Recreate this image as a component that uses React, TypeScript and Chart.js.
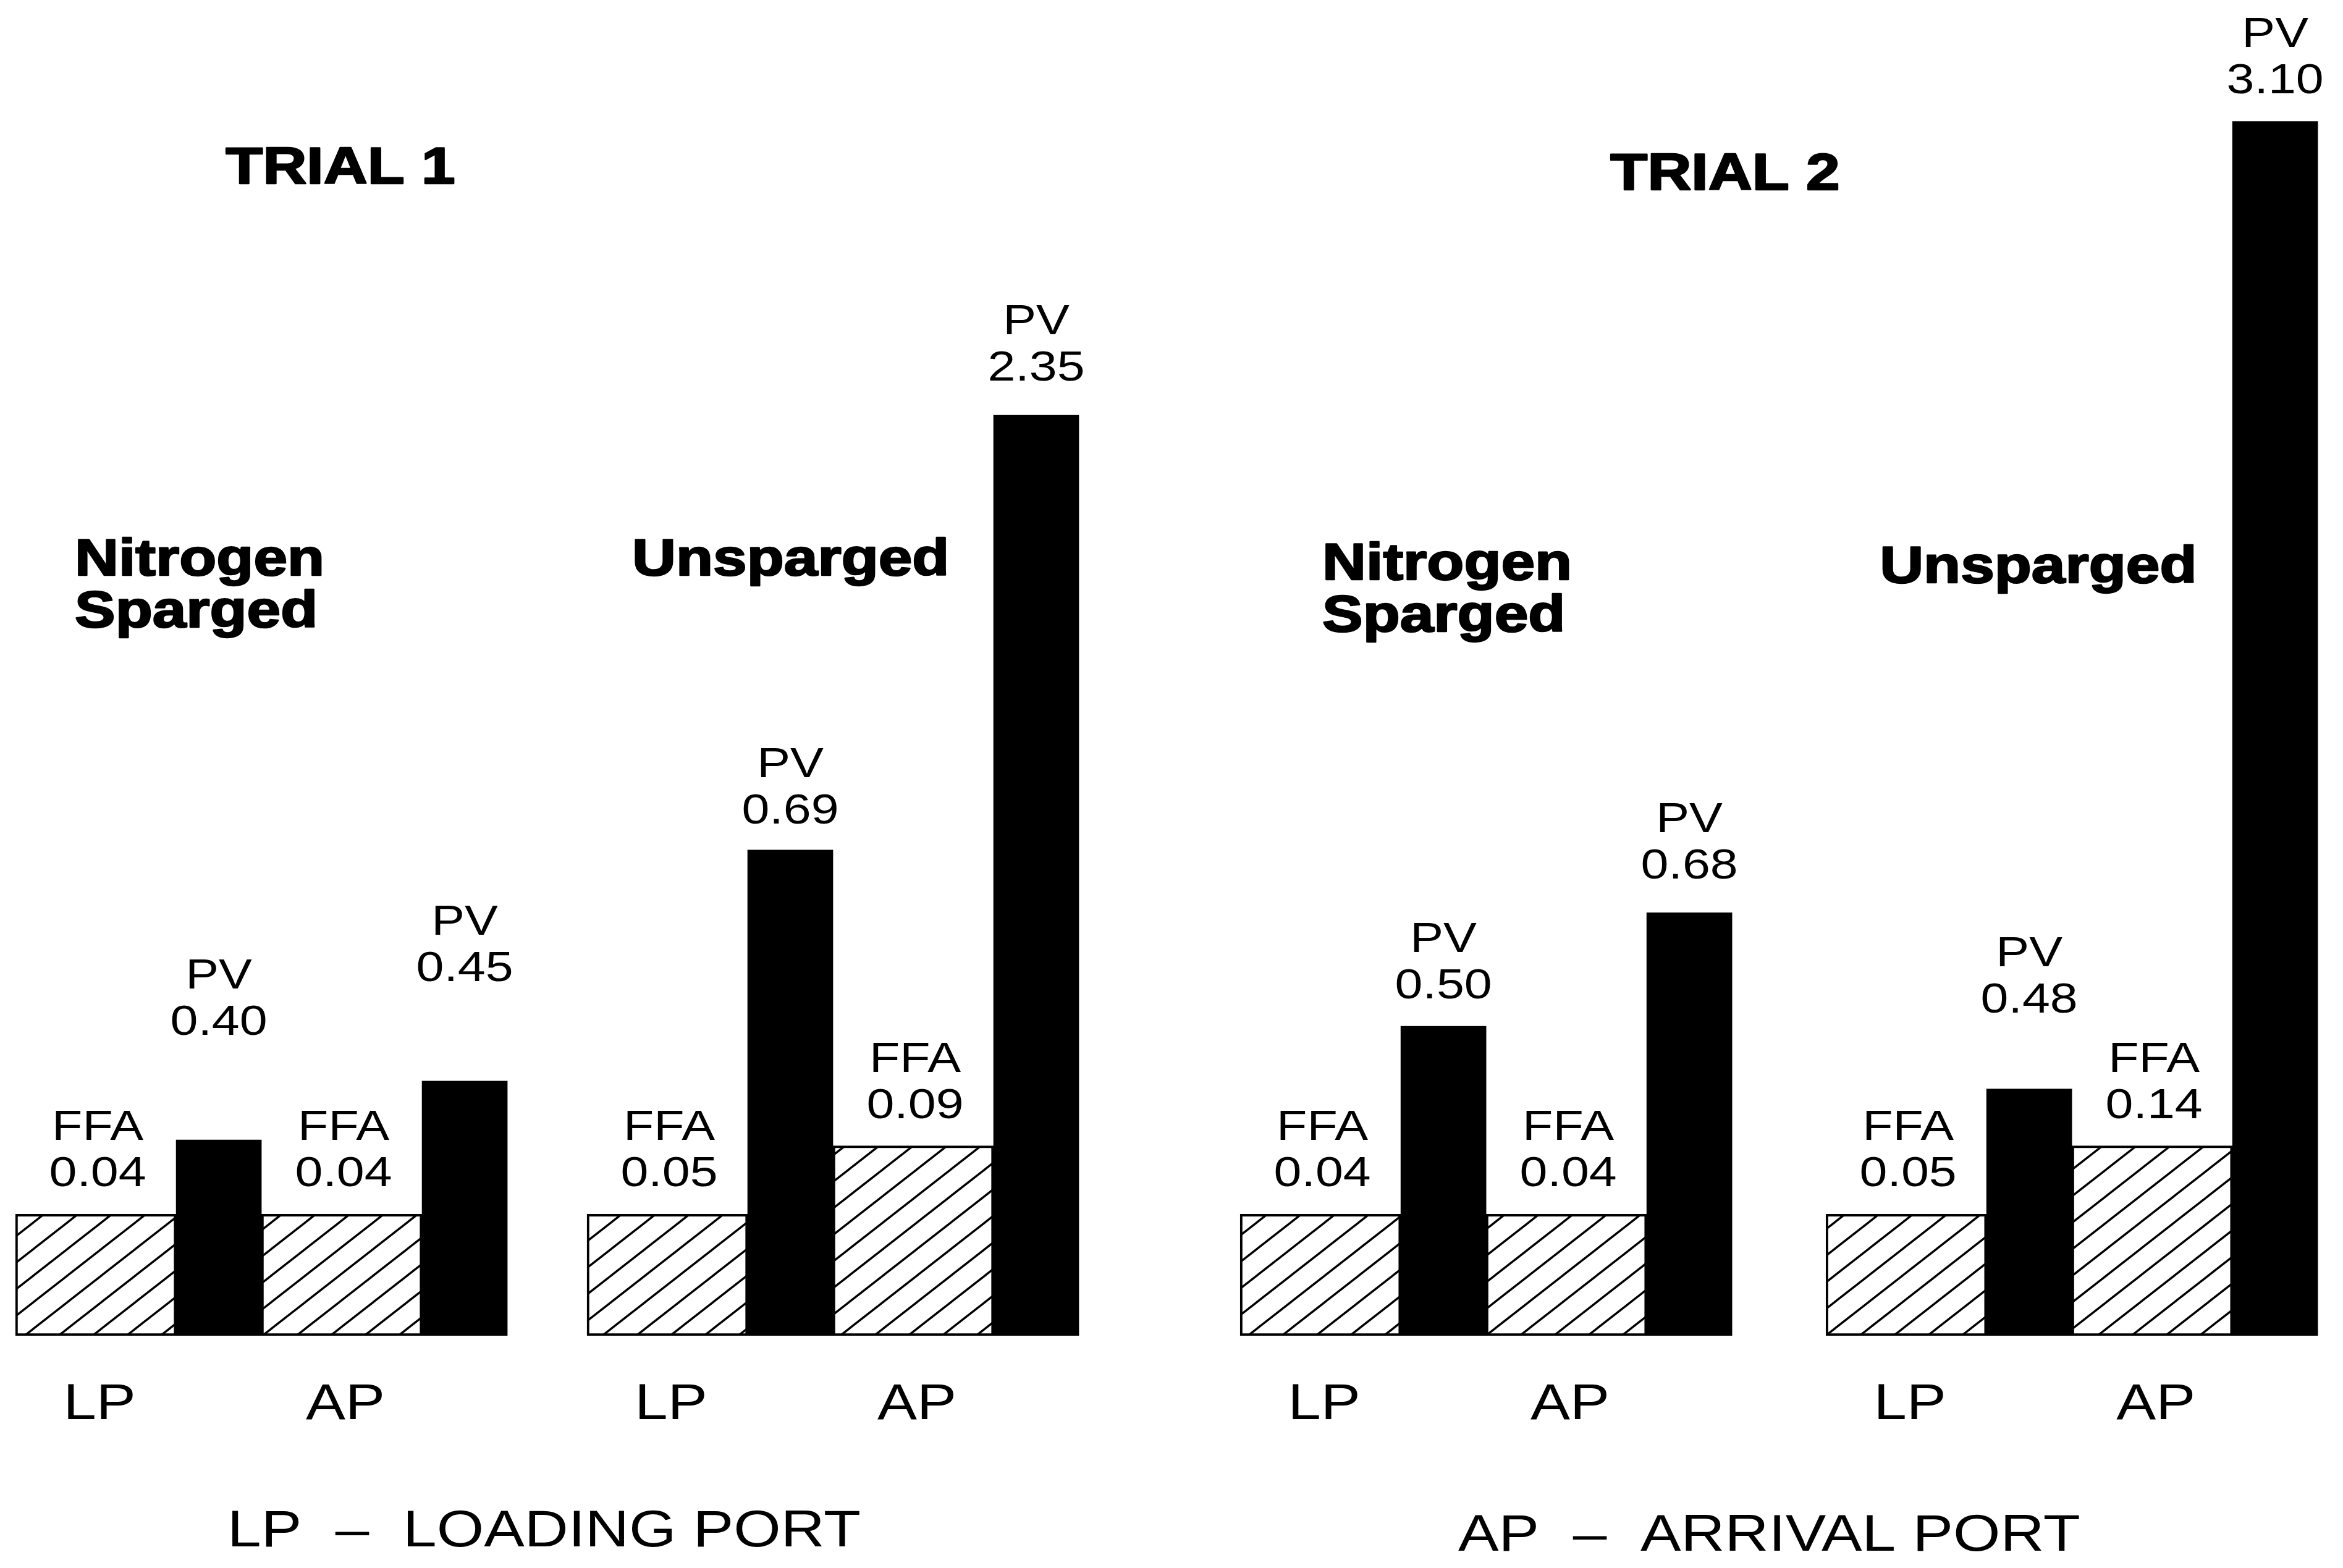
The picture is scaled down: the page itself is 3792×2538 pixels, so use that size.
import React, { useEffect, useRef } from "react";
import { Chart, registerables } from "chart.js";

Chart.register(...registerables);

// ---------------- DATA ----------------
// Bars are ordered group by group, LP (loading port) then AP (arrival port).
const groupNames = ["Trial 1 Nitrogen Sparged", "Trial 1 Unsparged", "Trial 2 Nitrogen Sparged", "Trial 2 Unsparged"];
const groupTitles = [["Nitrogen", "Sparged"], ["Unsparged"], ["Nitrogen", "Sparged"], ["Unsparged"]];
const trialTitles = ["TRIAL 1", "TRIAL 2"];
const portLabels = ["LP", "AP"];
// values printed on the figure
const ffaValues = [0.04, 0.04, 0.05, 0.09, 0.04, 0.04, 0.05, 0.14];
const pvValues = [0.40, 0.45, 0.69, 2.35, 0.50, 0.68, 0.48, 3.10];
// drawn bar heights (schematic; on the common scale where the PV 3.10 bar = 3.10)
const ffaBarHeights = [0.31, 0.31, 0.31, 0.485, 0.31, 0.31, 0.31, 0.485];
const pvBarHeights = [0.50, 0.65, 1.24, 2.35, 0.79, 1.08, 0.63, 3.10];
const footnotes = ["LP  \u2013  LOADING PORT", "AP  \u2013  ARRIVAL PORT"];

// ---------------- LAYOUT / STYLE ----------------
const W = 3792;
const H = 2538;
const PAIR_PX = 398; // one FFA bar + one PV bar
const X_MAX = W / PAIR_PX;
const GROUP_START = [0.063, 2.387, 5.043, 7.425];
const FFA_THICK = 260;
const PV_THICK = 138;
const HATCH_FRAC = FFA_THICK / PAIR_PX;
const Y_MAX = 3.41;
const PAD_BOTTOM = 376;
const STRETCH = 1.17;
const FONT = '"Liberation Sans", Arial, Helvetica, sans-serif';
const LABEL_FONT = `69px ${FONT}`;
const LABEL_LINE = 75;
const FFA_GAP = 45;
const PV_GAP = [170, 162, 43, 56, 45, 55, 124, 46];
const TITLE_FONT = `bold 84px ${FONT}`;
const TITLE_DX = [96, 73, 133, 87];
const TITLE_Y = [931, 931, 938, 943];
const TITLE_LINE = 84;
const TRIAL_X = [551, 2792];
const TRIAL_Y = [297, 307];
const PORT_FONT = `82px ${FONT}`;
const PORT_DY = 135;
const FOOT_FONT = `84px ${FONT}`;
const FOOT_X = [368, 2360];
const FOOT_Y = [2503, 2510];

function xAt(i: number) {
  const g = Math.floor(i / 2);
  const p = i % 2;
  return GROUP_START[g] + p + HATCH_FRAC;
}

function makeHatch(): CanvasPattern | string {
  const tw = 55;
  const th = 43;
  const c = document.createElement("canvas");
  c.width = tw;
  c.height = th;
  const t = c.getContext("2d");
  if (!t) return "#fff";
  t.fillStyle = "#fff";
  t.fillRect(0, 0, tw, th);
  t.strokeStyle = "#000";
  t.lineWidth = 3.4;
  for (let k = -1; k <= 1; k++) {
    t.beginPath();
    t.moveTo(-tw, 2 * th + k * th);
    t.lineTo(2 * tw, -th + k * th);
    t.stroke();
  }
  const main = document.createElement("canvas").getContext("2d");
  const pat = main ? main.createPattern(c, "repeat") : null;
  return pat || "#fff";
}

function drawText(ctx: CanvasRenderingContext2D, text: string, x: number, y: number, font: string, align: CanvasTextAlign, bold = false) {
  ctx.save();
  ctx.font = font;
  ctx.textAlign = align;
  ctx.textBaseline = "alphabetic";
  ctx.translate(x, y);
  ctx.scale(STRETCH, 1);
  ctx.fillStyle = "#000";
  ctx.fillText(text, 0, 0);
  if (bold) {
    ctx.strokeStyle = "#000";
    ctx.lineWidth = 2.5;
    ctx.lineJoin = "round";
    ctx.strokeText(text, 0, 0);
  }
  ctx.restore();
}

const textPlugin = {
  id: "figureText",
  afterDatasetsDraw(chart: any) {
    const ctx: CanvasRenderingContext2D = chart.ctx;
    const xs = chart.scales.x;
    const ys = chart.scales.y;
    const base = ys.getPixelForValue(0);
    const ffaMeta = chart.getDatasetMeta(0);
    const pvMeta = chart.getDatasetMeta(1);

    ffaMeta.data.forEach((bar: any, i: number) => {
      const x = bar.x + 3;
      const y = bar.y - FFA_GAP;
      drawText(ctx, ffaValues[i].toFixed(2), x, y, LABEL_FONT, "center");
      drawText(ctx, "FFA", x, y - LABEL_LINE, LABEL_FONT, "center");
      drawText(ctx, portLabels[i % 2], bar.x + 6, base + PORT_DY, PORT_FONT, "center");
    });
    pvMeta.data.forEach((bar: any, i: number) => {
      const x = bar.x;
      const y = bar.y - PV_GAP[i];
      drawText(ctx, pvValues[i].toFixed(2), x, y, LABEL_FONT, "center");
      drawText(ctx, "PV", x, y - LABEL_LINE, LABEL_FONT, "center");
    });

    groupTitles.forEach((lines, g) => {
      const left = xs.getPixelForValue(GROUP_START[g]) + TITLE_DX[g];
      lines.forEach((line, k) => {
        drawText(ctx, line, left, TITLE_Y[g] + k * TITLE_LINE, TITLE_FONT, "left", true);
      });
    });

    trialTitles.forEach((t, k) => {
      drawText(ctx, t, TRIAL_X[k], TRIAL_Y[k], TITLE_FONT, "center", true);
    });

    footnotes.forEach((f, k) => {
      drawText(ctx, f, FOOT_X[k], FOOT_Y[k], FOOT_FONT, "left");
    });
  },
};

export default function App() {
  const ref = useRef<HTMLCanvasElement | null>(null);

  useEffect(() => {
    if (!ref.current) return;
    const hatch = makeHatch();
    const chart = new Chart(ref.current, {
      type: "bar",
      data: {
        datasets: [
          {
            label: "FFA",
            data: ffaBarHeights.map((y, i) => ({ x: xAt(i), y })) as any,
            backgroundColor: hatch as any,
            borderColor: "#000",
            borderWidth: 4,
            borderSkipped: false,
            barThickness: FFA_THICK,
          },
          {
            label: "PV",
            data: pvBarHeights.map((y, i) => ({ x: xAt(i), y })) as any,
            backgroundColor: "#000",
            borderWidth: 0,
            barThickness: PV_THICK,
          },
        ],
      },
      options: {
        responsive: false,
        animation: false,
        layout: { padding: { left: 0, right: 0, top: 0, bottom: PAD_BOTTOM } },
        plugins: {
          legend: { display: false },
          tooltip: { enabled: false },
          title: { display: false },
        },
        scales: {
          x: { type: "linear", min: 0, max: X_MAX, display: false, offset: false, grid: { display: false } },
          y: { type: "linear", min: 0, max: Y_MAX, display: false, grid: { display: false } },
        },
      },
      plugins: [textPlugin],
    });
    return () => chart.destroy();
  }, []);

  return (
    <div style={{ position: "absolute", left: 0, top: 0, width: W, height: H, background: "#fff" }}>
      <canvas ref={ref} width={W} height={H} style={{ display: "block", width: W, height: H }} aria-label={groupNames.join(", ")} />
    </div>
  );
}
